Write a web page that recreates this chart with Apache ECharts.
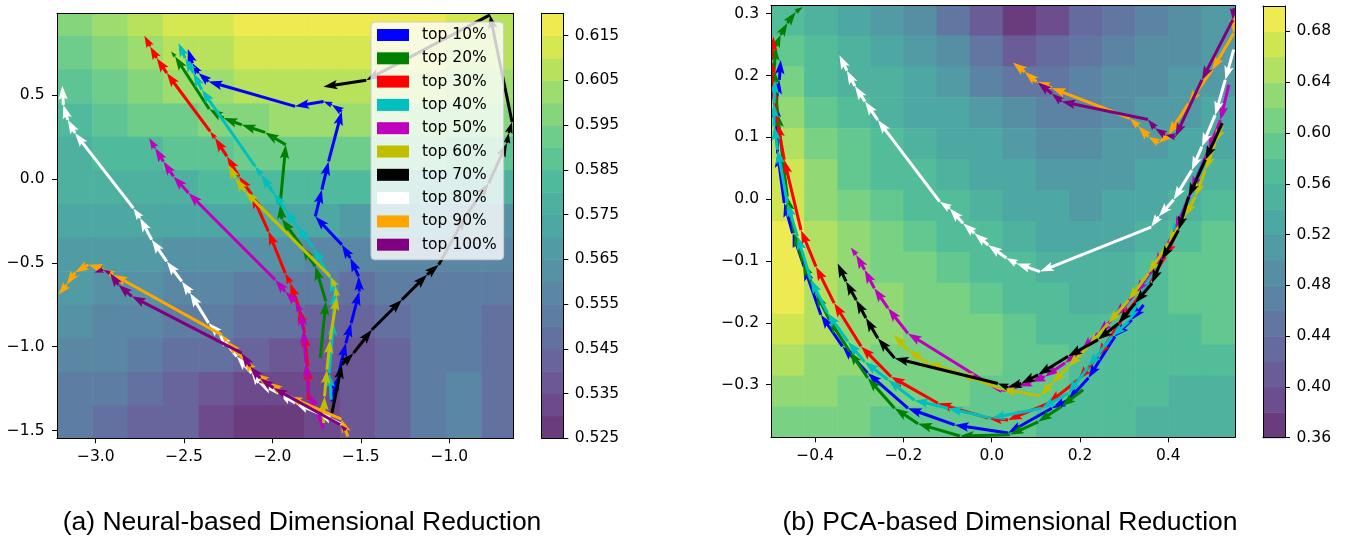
<!DOCTYPE html>
<html><head><meta charset="utf-8">
<script src="https://cdn.jsdelivr.net/npm/echarts@6/dist/echarts.min.js"></script>
<style>html,body{margin:0;padding:0;background:#fff}#c{width:1349px;height:542px}</style>
</head><body><div id="c"></div>
<script>
// ---------------- DATA ----------------
const seriesNames = ['top 10%','top 20%','top 30%','top 40%','top 50%','top 60%','top 70%','top 80%','top 90%','top 100%'];
const seriesColors = ['#0000ff','#008000','#ff0000','#00bfbf','#bf00bf','#bfbf00','#000000','#ffffff','#ffa500','#800080'];

// (a) neural-based trajectories
const neuralTop10 = [[-1.664,-1.325],[-1.630,-1.177],[-1.585,-0.978],[-1.555,-0.859],[-1.509,-0.671],[-1.513,-0.581],[-1.560,-0.472],[-1.608,-0.393],[-1.758,-0.224],[-1.721,-0.065],[-1.683,0.103],[-1.608,0.401],[-1.664,0.440],[-1.711,0.460],[-1.872,0.431],[-2.362,0.579],[-2.419,0.629],[-2.453,0.688],[-2.479,0.772]];
const neuralTop20 = [[-1.730,-1.067],[-1.698,-0.730],[-1.758,-0.522],[-1.834,-0.403],[-1.947,-0.240],[-1.957,-0.155],[-1.925,0.202],[-2.042,0.276],[-2.174,0.321],[-2.277,0.361],[-2.358,0.415],[-2.551,0.728],[-2.574,0.758]];
const neuralTop30 = [[-1.796,-1.315],[-1.800,-1.117],[-1.819,-0.919],[-1.849,-0.770],[-1.900,-0.621],[-1.928,-0.562],[-2.023,-0.313],[-2.117,-0.095],[-2.189,0.014],[-2.258,0.133],[-2.325,0.242],[-2.353,0.282],[-2.598,0.629],[-2.655,0.718],[-2.692,0.788],[-2.725,0.851]];
const neuralTop40 = [[-1.668,-1.315],[-1.679,-1.157],[-1.655,-0.849],[-1.649,-0.671],[-1.674,-0.591],[-1.768,-0.413],[-1.862,-0.280],[-1.928,-0.185],[-1.994,-0.085],[-2.064,0.024],[-2.098,0.073],[-2.400,0.530],[-2.447,0.629],[-2.494,0.718],[-2.532,0.808]];
const neuralTop50 = [[-1.711,-1.484],[-1.796,-1.276],[-1.811,-1.097],[-1.825,-0.899],[-1.843,-0.790],[-1.872,-0.730],[-1.928,-0.671],[-1.985,-0.601],[-2.475,-0.085],[-2.560,0.014],[-2.617,0.103],[-2.664,0.183],[-2.698,0.242]];
const neuralTop60 = [[-1.711,-1.454],[-1.706,-1.296],[-1.692,-1.137],[-1.674,-0.958],[-1.636,-0.700],[-1.645,-0.641],[-1.674,-0.581],[-2.155,-0.075],[-2.211,0.004],[-2.249,0.083]];
const neuralTop70 = [[-1.664,-1.395],[-1.608,-1.107],[-1.542,-1.038],[-1.438,-0.899],[-1.268,-0.720],[-1.126,-0.571],[-1.060,-0.512],[-0.909,-0.224],[-0.777,-0.026],[-0.674,0.212],[-0.664,0.272],[-0.645,0.338],[-0.770,0.976],[-1.470,0.587],[-1.712,0.548]];
const neuralTop80 = [[-1.589,-1.474],[-1.740,-1.395],[-1.872,-1.335],[-1.966,-1.276],[-2.079,-1.216],[-2.117,-1.157],[-2.202,-1.058],[-2.306,-0.919],[-2.362,-0.859],[-2.466,-0.681],[-2.513,-0.611],[-2.598,-0.492],[-2.683,-0.363],[-2.749,-0.234],[-2.787,-0.175],[-3.117,0.272],[-3.158,0.351],[-3.183,0.440],[-3.189,0.554]];
const neuralTop90 = [[-1.574,-1.534],[-1.611,-1.431],[-1.909,-1.296],[-2.023,-1.212],[-2.098,-1.161],[-2.164,-1.073],[-2.258,-0.968],[-2.287,-0.929],[-2.900,-0.571],[-2.957,-0.538],[-3.042,-0.512],[-3.117,-0.558],[-3.164,-0.631],[-3.211,-0.690]];
const neuralTop100 = [[-1.585,-1.498],[-1.617,-1.464],[-1.994,-1.246],[-2.070,-1.187],[-2.126,-1.117],[-2.174,-1.038],[-2.796,-0.700],[-2.872,-0.631],[-2.919,-0.562],[-2.957,-0.542],[-3.008,-0.558]];

// (b) PCA-based trajectories
const pcaTop10 = [[0.344,-0.171],[0.317,-0.195],[0.279,-0.222],[0.219,-0.289],[0.173,-0.325],[0.136,-0.338],[0.037,-0.378],[-0.084,-0.365],[-0.190,-0.338],[-0.281,-0.281],[-0.338,-0.238],[-0.387,-0.187],[-0.425,-0.109],[-0.451,-0.055],[-0.470,-0.006],[-0.485,0.074],[-0.489,0.155],[-0.481,0.193],[-0.478,0.225]];
const pcaTop20 = [[0.207,-0.308],[0.158,-0.335],[0.105,-0.360],[0.041,-0.381],[-0.072,-0.383],[-0.167,-0.363],[-0.220,-0.338],[-0.281,-0.289],[-0.322,-0.246],[-0.368,-0.195],[-0.398,-0.152],[-0.428,-0.102],[-0.447,-0.055],[-0.463,0.004],[-0.474,0.069],[-0.485,0.139],[-0.493,0.209],[-0.489,0.247],[-0.478,0.266],[-0.463,0.285],[-0.444,0.303],[-0.428,0.311]];
const pcaTop30 = [[0.419,-0.055],[0.393,-0.093],[0.340,-0.152],[0.294,-0.195],[0.241,-0.254],[0.196,-0.292],[0.128,-0.330],[0.037,-0.357],[-0.008,-0.354],[-0.122,-0.330],[-0.228,-0.287],[-0.296,-0.238],[-0.357,-0.168],[-0.398,-0.109],[-0.432,-0.050],[-0.470,0.064],[-0.485,0.123],[-0.497,0.182],[-0.499,0.225],[-0.494,0.263]];
const pcaTop40 = [[0.476,0.058],[0.446,0.004],[0.408,-0.060],[0.340,-0.152],[0.310,-0.198],[0.272,-0.222],[0.219,-0.271],[0.173,-0.314],[0.113,-0.338],[-0.001,-0.354],[-0.099,-0.338],[-0.175,-0.325],[-0.235,-0.292],[-0.288,-0.263],[-0.326,-0.230],[-0.372,-0.184],[-0.410,-0.130],[-0.440,-0.060],[-0.463,-0.006],[-0.485,0.080],[-0.493,0.118],[-0.493,0.155],[-0.491,0.193]];
const pcaTop50 = [[0.537,0.185],[0.518,0.128],[0.491,0.080],[0.453,0.015],[0.416,-0.050],[0.370,-0.109],[0.325,-0.152],[0.279,-0.190],[0.241,-0.217],[0.204,-0.244],[0.166,-0.265],[0.120,-0.287],[0.090,-0.295],[0.060,-0.303],[0.022,-0.311],[-0.190,-0.217],[-0.235,-0.176],[-0.266,-0.144],[-0.288,-0.114],[-0.307,-0.090],[-0.319,-0.078]];
const pcaTop60 = [[0.522,0.120],[0.506,0.091],[0.484,0.047],[0.461,0.004],[0.438,-0.028],[0.400,-0.071],[0.355,-0.120],[0.310,-0.163],[0.264,-0.201],[0.219,-0.238],[0.173,-0.271],[0.136,-0.298],[0.110,-0.318],[0.022,-0.307],[-0.072,-0.281],[-0.145,-0.265],[-0.190,-0.244],[-0.222,-0.219]];
const pcaTop70 = [[0.522,0.123],[0.484,0.064],[0.446,0.004],[0.423,-0.050],[0.385,-0.098],[0.363,-0.136],[0.325,-0.168],[0.287,-0.201],[0.241,-0.227],[0.173,-0.254],[0.105,-0.284],[0.067,-0.298],[0.037,-0.304],[0.014,-0.298],[-0.220,-0.257],[-0.258,-0.225],[-0.285,-0.192],[-0.307,-0.163],[-0.330,-0.133],[-0.349,-0.104]];
const pcaTop80 = [[0.548,0.242],[0.529,0.193],[0.506,0.136],[0.476,0.085],[0.453,0.047],[0.412,-0.001],[0.378,-0.028],[0.361,-0.045],[0.109,-0.117],[0.056,-0.104],[0.033,-0.095],[-0.008,-0.074],[-0.039,-0.055],[-0.065,-0.039],[-0.095,-0.015],[-0.118,-0.004],[-0.258,0.128],[-0.287,0.158],[-0.310,0.183],[-0.328,0.208],[-0.345,0.233]];
const pcaTop90 = [[0.550,0.306],[0.548,0.268],[0.499,0.209],[0.446,0.155],[0.400,0.104],[0.378,0.091],[0.355,0.101],[0.332,0.118],[0.313,0.131],[0.136,0.180],[0.101,0.190],[0.075,0.206],[0.048,0.221]];
const pcaTop100 = [[0.548,0.309],[0.546,0.290],[0.476,0.193],[0.416,0.101],[0.393,0.104],[0.370,0.115],[0.354,0.129],[0.158,0.158],[0.136,0.171],[0.104,0.189]];

const neuralFieldX = [-3.12,-2.92,-2.72,-2.52,-2.32,-2.12,-1.92,-1.72,-1.52,-1.32,-1.12,-0.92,-0.72];
const neuralFieldY = [0.95,0.75,0.55,0.35,0.15,-0.05,-0.25,-0.45,-0.65,-0.85,-1.05,-1.25,-1.45];
const neuralField = [
 [0.595,0.600,0.605,0.610,0.610,0.615,0.615,0.615,0.615,0.615,0.615,0.610,0.605],
 [0.590,0.595,0.600,0.605,0.605,0.610,0.610,0.610,0.610,0.610,0.610,0.605,0.605],
 [0.585,0.590,0.595,0.600,0.600,0.605,0.605,0.605,0.605,0.605,0.605,0.600,0.600],
 [0.580,0.585,0.590,0.590,0.595,0.595,0.600,0.600,0.600,0.600,0.595,0.595,0.595],
 [0.575,0.580,0.580,0.585,0.585,0.590,0.590,0.590,0.590,0.590,0.590,0.585,0.585],
 [0.575,0.575,0.575,0.575,0.580,0.580,0.580,0.580,0.580,0.580,0.575,0.575,0.575],
 [0.570,0.570,0.570,0.570,0.570,0.570,0.570,0.570,0.565,0.565,0.565,0.560,0.560],
 [0.565,0.565,0.565,0.560,0.560,0.560,0.560,0.555,0.555,0.555,0.555,0.555,0.555],
 [0.565,0.560,0.560,0.555,0.555,0.550,0.550,0.550,0.545,0.550,0.550,0.550,0.550],
 [0.560,0.555,0.555,0.550,0.550,0.545,0.545,0.540,0.540,0.545,0.550,0.550,0.545],
 [0.555,0.555,0.550,0.545,0.545,0.540,0.535,0.535,0.535,0.540,0.550,0.550,0.545],
 [0.550,0.550,0.545,0.540,0.535,0.530,0.530,0.530,0.535,0.540,0.550,0.555,0.545],
 [0.550,0.545,0.540,0.540,0.530,0.525,0.525,0.530,0.535,0.540,0.550,0.555,0.545]
];
const pcaFieldX = [-0.4625,-0.3875,-0.3125,-0.2375,-0.1625,-0.0875,-0.0125,0.0625,0.1375,0.2125,0.2875,0.3625,0.4375,0.5125];
const pcaFieldY = [0.29,0.24,0.19,0.14,0.09,0.04,-0.01,-0.06,-0.11,-0.16,-0.21,-0.26,-0.31,-0.36];
const pcaField = [
 [0.56,0.54,0.52,0.50,0.48,0.44,0.40,0.36,0.38,0.42,0.44,0.46,0.48,0.50],
 [0.58,0.56,0.54,0.52,0.50,0.48,0.44,0.40,0.42,0.44,0.46,0.48,0.48,0.50],
 [0.60,0.56,0.54,0.54,0.52,0.50,0.46,0.44,0.44,0.46,0.48,0.48,0.50,0.50],
 [0.62,0.58,0.56,0.54,0.52,0.52,0.50,0.48,0.46,0.46,0.48,0.50,0.50,0.52],
 [0.64,0.60,0.58,0.56,0.54,0.52,0.52,0.50,0.48,0.48,0.50,0.50,0.52,0.52],
 [0.66,0.62,0.58,0.56,0.56,0.54,0.52,0.52,0.50,0.50,0.50,0.52,0.52,0.54],
 [0.66,0.62,0.60,0.58,0.56,0.56,0.54,0.52,0.52,0.50,0.52,0.52,0.54,0.56],
 [0.68,0.64,0.62,0.60,0.58,0.56,0.56,0.54,0.52,0.52,0.52,0.54,0.56,0.58],
 [0.68,0.64,0.62,0.60,0.60,0.58,0.56,0.56,0.54,0.54,0.54,0.56,0.58,0.58],
 [0.68,0.64,0.62,0.62,0.60,0.60,0.58,0.56,0.56,0.54,0.54,0.56,0.58,0.58],
 [0.66,0.64,0.62,0.62,0.60,0.60,0.60,0.58,0.56,0.56,0.56,0.56,0.56,0.58],
 [0.64,0.62,0.62,0.60,0.60,0.60,0.60,0.58,0.58,0.56,0.56,0.56,0.56,0.56],
 [0.62,0.62,0.60,0.60,0.60,0.60,0.58,0.58,0.58,0.56,0.56,0.56,0.54,0.54],
 [0.60,0.60,0.60,0.58,0.58,0.58,0.58,0.58,0.56,0.56,0.56,0.54,0.54,0.54]
];

// contour levels and tick labels
const neuralLevels = [0.525,0.530,0.535,0.540,0.545,0.550,0.555,0.560,0.565,0.570,0.575,0.580,0.585,0.590,0.595,0.600,0.605,0.610,0.615,0.620];
const pcaLevels = [0.36,0.38,0.40,0.42,0.44,0.46,0.48,0.50,0.52,0.54,0.56,0.58,0.60,0.62,0.64,0.66,0.68,0.70];
const neuralXTicks = [-3.0,-2.5,-2.0,-1.5,-1.0];
const neuralYTicks = [-1.5,-1.0,-0.5,0.0,0.5];
const pcaXTicks = [-0.4,-0.2,0.0,0.2,0.4];
const pcaYTicks = [-0.3,-0.2,-0.1,0.0,0.1,0.2,0.3];
const neuralBarTicks = [0.525,0.535,0.545,0.555,0.565,0.575,0.585,0.595,0.605,0.615];
const pcaBarTicks = [0.36,0.40,0.44,0.48,0.52,0.56,0.60,0.64,0.68];
const captions = ['(a) Neural-based Dimensional Reduction','(b) PCA-based Dimensional Reduction'];

// ---------------- HELPERS ----------------
const VIRIDIS = ['#440154','#482475','#414487','#355f8d','#2a788e','#21918c','#22a884','#44bf70','#7ad151','#bddf26','#fde725'];
function hexRgb(h){return [parseInt(h.substr(1,2),16),parseInt(h.substr(3,2),16),parseInt(h.substr(5,2),16)];}
function viridis(t){
  t=Math.min(Math.max(t,0),1); const n=VIRIDIS.length-1; const f=t*n;
  const i=Math.min(Math.floor(f),n-1); const r=f-i;
  const a=hexRgb(VIRIDIS[i]), b=hexRgb(VIRIDIS[i+1]);
  return a.map((v,k)=>v+(b[k]-v)*r);
}
function bandIndex(v, levels){
  let k=0; for(let i=0;i<levels.length-1;i++){ if(v+1e-7>=levels[i]) k=i; }
  return k;
}
function bandColor(k, levels){
  const c=viridis((k+0.5)/(levels.length-1)); const a=0.8;
  return 'rgb('+c.map(x=>Math.round(a*x+(1-a)*255)).join(',')+')';
}
function edges(c){
  const n=c.length, e=[];
  for(let i=0;i<=n;i++){
    if(i===0) e.push(c[0]-(c[1]-c[0])/2);
    else if(i===n) e.push(c[n-1]+(c[n-1]-c[n-2])/2);
    else e.push((c[i-1]+c[i])/2);
  }
  return e;
}
function fieldData(xs, ys, rows){
  const ex=edges(xs), ey=edges(ys), out=[];
  for(let j=0;j<ys.length;j++) for(let i=0;i<xs.length;i++)
    out.push([ex[i], ey[j], ex[i+1], ey[j+1], rows[j][i]]);
  return out;
}
function segs(pts){const o=[];for(let i=0;i<pts.length-1;i++)o.push([pts[i][0],pts[i][1],pts[i+1][0],pts[i+1][1]]);return o;}
function bands(levels){const o=[];for(let i=0;i<levels.length-1;i++)o.push([levels[i],levels[i+1],i]);return o;}

function heatSeries(xi, yi, data, levels){
  return {type:'custom', xAxisIndex:xi, yAxisIndex:yi, z:1, silent:true, data,
    encode:{x:[0,2], y:[1,3]},
    renderItem:(params, api)=>{
      const a=api.coord([api.value(0), api.value(1)]);
      const b=api.coord([api.value(2), api.value(3)]);
      const cs=params.coordSys;
      const x0=Math.min(a[0],b[0]), y0=Math.min(a[1],b[1]);
      const shape=echarts.graphic.clipRectByRect(
        {x:x0, y:y0, width:Math.abs(b[0]-a[0])+0.6, height:Math.abs(b[1]-a[1])+0.6},
        {x:cs.x, y:cs.y, width:cs.width, height:cs.height});
      if(!shape) return;
      return {type:'rect', shape, style:{fill:bandColor(bandIndex(api.value(4),levels),levels)}};
    }};
}
function barSeries(xi, yi, levels){
  return {type:'custom', xAxisIndex:xi, yAxisIndex:yi, z:1, silent:true, data:bands(levels),
    encode:{y:[0,1]},
    renderItem:(params, api)=>{
      const a=api.coord([0, api.value(1)]);
      const b=api.coord([1, api.value(0)]);
      return {type:'rect', shape:{x:a[0], y:a[1], width:b[0]-a[0], height:b[1]-a[1]+0.5},
        style:{fill:bandColor(api.value(2),levels)}};
    }};
}
const SHAFT=3.0, HEADW=9.5, HEADL=14, HEADAX=12;
function arrowSeries(name, color, xi, yi, pts){
  return {type:'custom', name, xAxisIndex:xi, yAxisIndex:yi, z:3, clip:true, silent:true,
    itemStyle:{color}, data:segs(pts), encode:{x:[0,2], y:[1,3]},
    renderItem:(params, api)=>{
      const p=api.coord([api.value(0), api.value(1)]);
      const q=api.coord([api.value(2), api.value(3)]);
      const dx=q[0]-p[0], dy=q[1]-p[1], L=Math.hypot(dx,dy);
      if(L<0.3) return;
      const s=Math.min(1, L/HEADL);
      const ux=dx/L, uy=dy/L, nx=-uy, ny=ux;
      const w=SHAFT*s/2, hw=HEADW*s/2, hl=HEADL*s, ha=HEADAX*s;
      const bk=[q[0]-ux*hl, q[1]-uy*hl], nt=[q[0]-ux*ha, q[1]-uy*ha];
      const pts=[
        [p[0]+nx*w, p[1]+ny*w],[nt[0]+nx*w, nt[1]+ny*w],[bk[0]+nx*hw, bk[1]+ny*hw],
        [q[0], q[1]],
        [bk[0]-nx*hw, bk[1]-ny*hw],[nt[0]-nx*w, nt[1]-ny*w],[p[0]-nx*w, p[1]-ny*w]];
      return {type:'polygon', shape:{points:pts}, style:{fill:api.visual('color')}};
    }};
}

const FONT='DejaVu Sans';
function fmt(dec){return v=>(v<-1e-9?'\u2212':'')+Math.abs(v).toFixed(dec);}
const LINE={show:true, onZero:false, lineStyle:{color:'#000', width:1}};
function mainAxis(gi, pos, min, max, ticks, dec, margin){
  return {type:'value', gridIndex:gi, position:pos, min, max, z:10,
    axisLine:LINE, splitLine:{show:false},
    axisTick:{show:true, length:5, inside:false, customValues:ticks, lineStyle:{color:'#000', width:1}},
    axisLabel:{show:true, customValues:ticks, formatter:fmt(dec), margin, fontSize:15.5, fontFamily:FONT, color:'#000'}};
}
function lineAxis(gi, pos, min, max){
  return {type:'value', gridIndex:gi, position:pos, min, max, z:10, axisLine:LINE,
    axisTick:{show:false}, axisLabel:{show:false}, splitLine:{show:false}};
}

// axis extents (from the reference)
const NX=[-3.219,-0.638], NY=[-1.545,0.985], PX=[-0.5,0.551], PY=[-0.385,0.313];

const series=[];
series.push(heatSeries(0,0,fieldData(neuralFieldX,neuralFieldY,neuralField),neuralLevels));
series.push(barSeries(2,3,neuralLevels));
series.push(heatSeries(4,4,fieldData(pcaFieldX,pcaFieldY,pcaField),pcaLevels));
series.push(barSeries(6,7,pcaLevels));
const neuralSets=[neuralTop10,neuralTop20,neuralTop30,neuralTop40,neuralTop50,neuralTop60,neuralTop70,neuralTop80,neuralTop90,neuralTop100];
const pcaSets=[pcaTop10,pcaTop20,pcaTop30,pcaTop40,pcaTop50,pcaTop60,pcaTop70,pcaTop80,pcaTop90,pcaTop100];
neuralSets.forEach((p,i)=>series.push(arrowSeries(seriesNames[i],seriesColors[i],0,0,p)));
pcaSets.forEach((p,i)=>series.push(arrowSeries(seriesNames[i],seriesColors[i],4,4,p)));

const option={
  animation:false,
  backgroundColor:'#ffffff',
  grid:[
    {left:57, top:13.3, width:456.3, height:425},
    {left:541.7, top:13.3, width:21.6, height:425},
    {left:771, top:5.7, width:464, height:431.6},
    {left:1263, top:6, width:22, height:431.7}
  ],
  xAxis:[
    mainAxis(0,'bottom',NX[0],NX[1],neuralXTicks,1,10.5),
    lineAxis(0,'top',NX[0],NX[1]),
    lineAxis(1,'bottom',0,1),
    lineAxis(1,'top',0,1),
    mainAxis(2,'bottom',PX[0],PX[1],pcaXTicks,1,10.5),
    lineAxis(2,'top',PX[0],PX[1]),
    lineAxis(3,'bottom',0,1),
    lineAxis(3,'top',0,1)
  ],
  yAxis:[
    mainAxis(0,'left',NY[0],NY[1],neuralYTicks,1,12.5),
    lineAxis(0,'right',NY[0],NY[1]),
    lineAxis(1,'left',neuralLevels[0],neuralLevels[neuralLevels.length-1]),
    mainAxis(1,'right',neuralLevels[0],neuralLevels[neuralLevels.length-1],neuralBarTicks,3,11.5),
    mainAxis(2,'left',PY[0],PY[1],pcaYTicks,1,12),
    lineAxis(2,'right',PY[0],PY[1]),
    lineAxis(3,'left',pcaLevels[0],pcaLevels[pcaLevels.length-1]),
    mainAxis(3,'right',pcaLevels[0],pcaLevels[pcaLevels.length-1],pcaBarTicks,2,11.5)
  ],
  legend:{
    data:seriesNames, orient:'vertical', left:371, top:22,
    icon:'rect', itemWidth:32, itemHeight:12, itemGap:7.3,
    backgroundColor:'rgba(255,255,255,0.8)', borderColor:'#cccccc', borderWidth:1, borderRadius:4,
    padding:[5,7,7,6], selectedMode:false,
    textStyle:{fontSize:15.5, fontFamily:FONT, color:'#000', lineHeight:16, padding:[0,0,0,8]}
  },
  graphic:[
    {type:'text', x:302, y:523, style:{text:captions[0], align:'center', verticalAlign:'middle', textAlign:'center', textVerticalAlign:'middle', fontSize:26.5, fontFamily:'Liberation Sans', fill:'#000'}},
    {type:'text', x:1010, y:523, style:{text:captions[1], align:'center', verticalAlign:'middle', textAlign:'center', textVerticalAlign:'middle', fontSize:26.5, fontFamily:'Liberation Sans', fill:'#000'}}
  ],
  series
};
const chart=echarts.init(document.getElementById('c'),null,{renderer:'canvas'});
chart.setOption(option);
</script>
</body></html>
